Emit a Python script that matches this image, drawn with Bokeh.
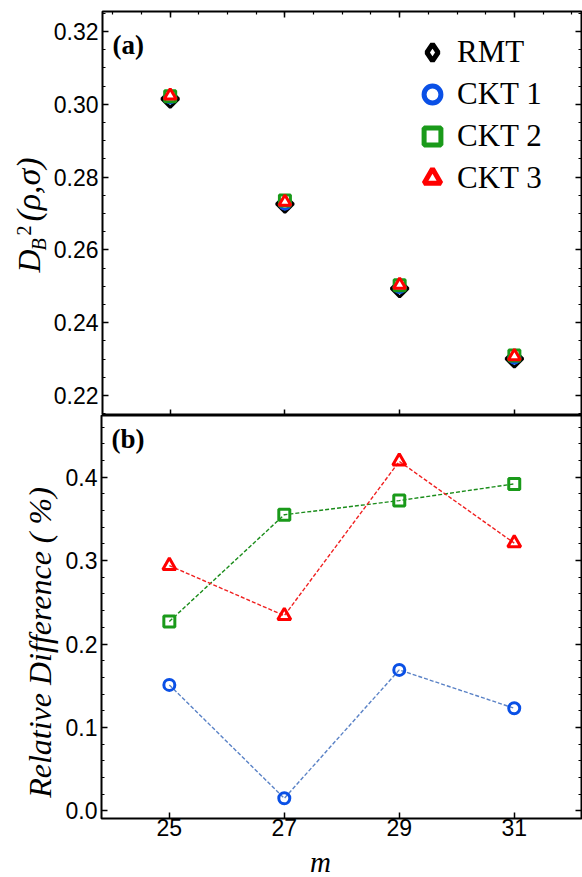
import numpy as np
from bokeh.plotting import figure
from bokeh.models import (Range1d, FixedTicker, LinearAxis, PrintfTickFormatter,
                          Label, Legend, LegendItem, ColumnDataSource)
from bokeh.layouts import column, row
from bokeh.embed import file_html
from bokeh.resources import INLINE

# ---------------- data ----------------
m_values = [25, 27, 29, 31]
rmt = [0.3015, 0.2726, 0.2494, 0.2301]
ckt1 = [0.3019, 0.2727, 0.2498, 0.2304]
ckt2 = [0.3022, 0.2736, 0.2503, 0.2310]
ckt3 = [0.3024, 0.2732, 0.2504, 0.2308]

rel_diff1 = [0.151, 0.015, 0.169, 0.123]
rel_diff2 = [0.227, 0.355, 0.372, 0.392]
rel_diff3 = [0.294, 0.234, 0.419, 0.321]

legend_labels = ["RMT", "CKT 1", "CKT 2", "CKT 3"]
x_ticks = [25, 27, 29, 31]
top_y_ticks = [0.22, 0.24, 0.26, 0.28, 0.30, 0.32]
bottom_y_ticks = [0.0, 0.1, 0.2, 0.3, 0.4]

# ---------------- style ----------------
BLUE = "#0a50e6"
GREEN = "#1a9a1a"
RED = "#ff0000"
BLUE_LINE = "#5a82c6"
GREEN_LINE = "#1a8c1a"
RED_LINE = "#f02020"
SERIF = "Liberation Serif"
SANS = "Liberation Sans"
TICK_FS = "23px"
MID = 0.3375  # baseline offset of a "middle"-anchored Liberation Serif text, in em

x_range = Range1d(23.82, 32.17)


def style_axis(ax, ticks, minor, fmt, labels=True, standoff=4):
    ax.ticker = FixedTicker(ticks=ticks, minor_ticks=minor)
    ax.formatter = PrintfTickFormatter(format=fmt)
    ax.axis_line_color = None
    ax.major_tick_in = 6
    ax.major_tick_out = 0
    ax.minor_tick_in = 3
    ax.minor_tick_out = 0
    ax.major_tick_line_width = 1.5
    ax.minor_tick_line_width = 1.2
    ax.major_tick_line_color = "black"
    ax.minor_tick_line_color = "black"
    ax.major_label_text_font = SANS
    if labels:
        ax.major_label_text_color = "black"
        ax.major_label_text_font_size = TICK_FS
        ax.major_label_standoff = standoff
    else:
        ax.major_label_text_color = None
        ax.major_label_text_font_size = "1px"
        ax.major_label_standoff = 0


def base_fig(width, height, y_range, mbl, mbt, mbb):
    p = figure(width=width, height=height, x_range=x_range, y_range=y_range,
               output_backend="svg", toolbar_location=None,
               min_border_left=mbl, min_border_right=1,
               min_border_top=mbt, min_border_bottom=mbb)
    p.xgrid.visible = False
    p.ygrid.visible = False
    p.outline_line_color = "black"
    p.outline_line_width = 2
    p.background_fill_color = "white"
    p.border_fill_color = "white"
    return p


def text_fig(width, height):
    t = figure(width=width, height=height, x_axis_type=None, y_axis_type=None,
               output_backend="svg", toolbar_location=None,
               min_border_left=0, min_border_right=0,
               min_border_top=0, min_border_bottom=0)
    t.xgrid.visible = False
    t.ygrid.visible = False
    t.outline_line_color = None
    t.background_fill_color = "white"
    t.border_fill_color = "white"
    return t


def vlabel(fig, txt, baseline_x, center_y, fs, style):
    # rotated (reading upwards) text, centred on center_y; baseline at baseline_x
    fig.add_layout(Label(x=baseline_x - MID * fs, y=center_y, x_units="screen",
                         y_units="screen", text=txt, angle=np.pi / 2,
                         text_font=SERIF, text_font_style=style,
                         text_font_size=f"{fs}px", text_align="center",
                         text_baseline="middle", text_color="black"))


x_minor_fine = list(np.arange(24.0, 32.01, 0.5))

# ---------------- top panel ----------------
H1 = 415
p1 = base_fig(532, H1, Range1d(0.2145, 0.3255), 51, 11, 0)
top_minor = list(np.round(np.arange(0.215, 0.3251, 0.005), 4))
style_axis(p1.yaxis[0], top_y_ticks, top_minor, "%.2f")
style_axis(p1.xaxis[0], x_ticks, [], "%d", labels=False)
ax_r = LinearAxis()
style_axis(ax_r, top_y_ticks, top_minor, "%.2f", labels=False)
p1.add_layout(ax_r, "right")
ax_t = LinearAxis()
style_axis(ax_t, x_ticks, x_minor_fine, "%d", labels=False)
p1.add_layout(ax_t, "above")

src_top = ColumnDataSource(dict(m=m_values, rmt=rmt, c1=ckt1, c2=ckt2, c3=ckt3))
p1.scatter("m", "rmt", source=src_top, marker="square", angle=np.pi / 4, size=12,
           fill_color="white", line_color="black", line_width=3)
p1.scatter("m", "c1", source=src_top, marker="circle", size=11,
           fill_color="white", line_color=BLUE, line_width=3)
p1.scatter("m", "c2", source=src_top, marker="square", size=11,
           fill_color="white", line_color=GREEN, line_width=3)
p1.scatter("m", "c3", source=src_top, marker="triangle", size=12,
           fill_color="white", line_color=RED, line_width=3)

# legend-only renderers (thicker strokes, larger symbols)
lg_r = p1.scatter("m", "rmt", source=src_top, marker="diamond",
                  fill_color="white", line_color="black", line_width=5, visible=False)
lg_1 = p1.scatter("m", "c1", source=src_top, marker="circle",
                  fill_color="white", line_color=BLUE, line_width=5, visible=False)
lg_2 = p1.scatter("m", "c2", source=src_top, marker="square",
                  fill_color="white", line_color=GREEN, line_width=5, visible=False)
lg_3 = p1.scatter("m", "c3", source=src_top, marker="triangle",
                  fill_color="white", line_color=RED, line_width=5, visible=False)
legend = Legend(items=[LegendItem(label=legend_labels[0], renderers=[lg_r]),
                       LegendItem(label=legend_labels[1], renderers=[lg_1]),
                       LegendItem(label=legend_labels[2], renderers=[lg_2]),
                       LegendItem(label=legend_labels[3], renderers=[lg_3])],
                location=(307, 216), orientation="vertical",
                glyph_width=46, glyph_height=42, spacing=0, padding=0, margin=0,
                label_standoff=2, label_text_font=SERIF, label_text_font_size="31px",
                label_text_color="black", border_line_color=None,
                background_fill_alpha=0, click_policy="none")
p1.add_layout(legend)

p1.add_layout(Label(x=10, y=371, x_units="screen", y_units="screen", text="(a)",
                    text_font=SERIF, text_font_style="bold", text_font_size="27px",
                    text_baseline="middle", text_color="black"))

# ---------------- bottom panel ----------------
H2 = 429
p2 = base_fig(522, H2, Range1d(-0.0092, 0.474), 41, 0, 26)
bot_minor = list(np.round(np.arange(0.0, 0.4701, 0.02), 4))
style_axis(p2.yaxis[0], bottom_y_ticks, bot_minor, "%.1f")
style_axis(p2.xaxis[0], x_ticks, [], "%d", standoff=0)
ax_r2 = LinearAxis()
style_axis(ax_r2, bottom_y_ticks, bot_minor, "%.1f", labels=False)
p2.add_layout(ax_r2, "right")

src_bot = ColumnDataSource(dict(m=m_values, d1=rel_diff1, d2=rel_diff2, d3=rel_diff3))
p2.line("m", "d1", source=src_bot, line_color=BLUE_LINE, line_width=1.4, line_dash="4 2")
p2.line("m", "d2", source=src_bot, line_color=GREEN_LINE, line_width=1.4, line_dash="4 2")
p2.line("m", "d3", source=src_bot, line_color=RED_LINE, line_width=1.4, line_dash="4 2")
p2.scatter("m", "d1", source=src_bot, marker="circle", size=11,
           fill_color="white", fill_alpha=0, line_color=BLUE, line_width=3)
p2.scatter("m", "d2", source=src_bot, marker="square", size=11,
           fill_color="white", fill_alpha=0, line_color=GREEN, line_width=3)
p2.scatter("m", "d3", source=src_bot, marker="triangle", size=13,
           fill_color="white", fill_alpha=0, line_color=RED, line_width=3)

p2.add_layout(Label(x=10, y=380, x_units="screen", y_units="screen", text="(b)",
                    text_font=SERIF, text_font_style="bold", text_font_size="27px",
                    text_baseline="middle", text_color="black"))

# ---------------- axis titles (separate text panels) ----------------
t1 = text_fig(50, H1)
vlabel(t1, "D", 39, 154.5, 32, "italic")
vlabel(t1, "B", 45, 171, 20, "italic")
vlabel(t1, "2", 30, 185, 20, "normal")
vlabel(t1, "(ρ,σ)", 39, 226, 34, "italic")

t2 = text_fig(60, H2)
vlabel(t2, "Relative Difference ( %)", 50, 176, 32, "italic")

t3 = text_fig(582, 33)
t3.add_layout(Label(x=320, y=15.8, x_units="screen", y_units="screen", text="m",
                    text_font=SERIF, text_font_style="italic", text_font_size="29px",
                    text_align="center", text_baseline="middle", text_color="black"))

layout = column(row(t1, p1, spacing=0), row(t2, p2, spacing=0), t3, spacing=0)
open("out.html", "w").write(file_html(layout, INLINE))
